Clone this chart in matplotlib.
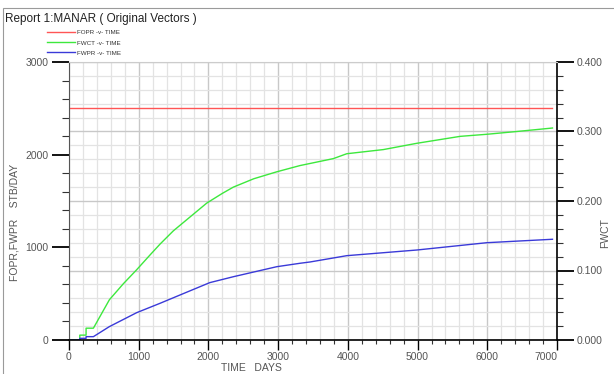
import numpy as np
import matplotlib
matplotlib.use("Agg")
import matplotlib.pyplot as plt
from matplotlib.ticker import MultipleLocator, FormatStrFormatter
from matplotlib.patches import Rectangle

plt.rcParams['font.family'] = ['Liberation Sans', 'DejaVu Sans']

# report time steps (days) and vectors
fopr_t = [0, 6935]
fopr = [2500, 2500]

fwct_t = [0, 155, 155, 245, 245, 350, 580, 780, 970, 1150, 1306, 1496, 1700,
          1976, 2200, 2358, 2650, 2980, 3314, 3458, 3792, 3984, 4510, 4988,
          5610, 5993, 6423, 6935]
fwct = [0.0, 0.0, 0.007, 0.007, 0.017, 0.017, 0.058, 0.081, 0.101, 0.121,
        0.138, 0.157, 0.174, 0.197, 0.211, 0.220, 0.232, 0.242, 0.251, 0.254,
        0.261, 0.268, 0.274, 0.283, 0.293, 0.296, 0.300, 0.305]

fwpr_t = [0, 155, 155, 245, 245, 350, 578, 971, 1306, 1593, 2019, 2358,
          2980, 3314, 3458, 3984, 4988, 5993, 6935]
fwpr = [0, 0, 18, 18, 36, 36, 144, 295, 396, 486, 619, 683, 791, 828, 842,
        910, 971, 1050, 1087]

W, H = 614, 374
fig = plt.figure(figsize=(W / 100, H / 100), dpi=100, facecolor='white')
ax2 = fig.add_axes([69 / W, 1 - 340 / H, (557 - 69) / W, (340 - 62) / H])
ax = fig.add_axes(ax2.get_position(), sharex=ax2)
ax.set_zorder(ax2.get_zorder() + 1)
ax.patch.set_visible(False)

lab_col = '#555555'

# right axis (FWCT) carries the grid
ax2.plot(fwct_t, fwct, color='#3de83d', lw=1.0, label='FWCT -v- TIME')
ax2.set_ylim(0, 0.4)
ax2.yaxis.tick_right()
ax2.yaxis.set_major_locator(MultipleLocator(0.1))
ax2.yaxis.set_minor_locator(MultipleLocator(0.02))
ax2.yaxis.set_major_formatter(FormatStrFormatter('%.3f'))
ax2.set_xlim(0, 7000)
ax2.xaxis.set_major_locator(MultipleLocator(1000))
ax2.xaxis.set_minor_locator(MultipleLocator(200))
ax2.grid(True, which='minor', color='#e3e3e3', lw=0.9)
ax2.grid(True, which='major', color='#c8c8c8', lw=1.0)
ax2.tick_params(axis='x', which='both', bottom=False, labelbottom=False)
ax2.tick_params(axis='y', which='major', length=12, width=1.3, color='black',
                labelsize=7.5, labelcolor=lab_col, pad=2)
ax2.tick_params(axis='y', which='minor', length=4, width=0.8, color='#333333')
for s in ['left', 'bottom', 'top']:
    ax2.spines[s].set_visible(False)
ax2.spines['right'].set_color('black')
ax2.spines['right'].set_linewidth(1.2)

# left axis (rates)
ax.plot(fopr_t, fopr, color='#ff5555', lw=1.0, label='FOPR -v- TIME')
ax.plot(fwpr_t, fwpr, color='#3a3ad8', lw=1.0, label='FWPR -v- TIME')
ax.set_ylim(0, 3000)
ax.yaxis.set_major_locator(MultipleLocator(1000))
ax.yaxis.set_minor_locator(MultipleLocator(200))
ax.tick_params(axis='y', which='major', length=12, width=1.3, color='black',
               labelsize=7.5, labelcolor=lab_col, pad=3)
ax.tick_params(axis='y', which='minor', length=5, width=0.8, color='#333333')
ax.tick_params(axis='x', which='major', length=7, width=1.0, color='black',
               labelsize=7.5, labelcolor=lab_col, pad=2)
ax.tick_params(axis='x', which='minor', length=3, width=0.8, color='#333333')
ax.spines['right'].set_visible(False)
ax.spines['top'].set_color('#cccccc')
ax.spines['left'].set_color('#555555')
ax.spines['bottom'].set_color('black')
ax.spines['bottom'].set_linewidth(1.2)
for lbl in ax.get_xticklabels():
    if lbl.get_text() == '7000':
        lbl.set_horizontalalignment('right')

# legend in FOPR, FWCT, FWPR order
h1, l1 = ax.get_legend_handles_labels()
h2, l2 = ax2.get_legend_handles_labels()
fig.legend([h1[0], h2[0], h1[1]], [l1[0], l2[0], l1[1]],
           loc='upper left', bbox_to_anchor=(44 / W, 1 - 27 / H),
           frameon=False, fontsize=4.5, handlelength=4.5, handletextpad=0.3,
           labelspacing=0.75, borderpad=0, labelcolor='#333333')

fig.text(5 / W, 1 - 19 / H, 'Report 1:MANAR ( Original Vectors )',
         fontsize=8.5, va='center', ha='left', color='#222222')
fig.text(15 / W, 1 - 222 / H, 'FOPR,FWPR    STB/DAY', rotation=90,
         fontsize=7.5, va='center', ha='center', color=lab_col)
fig.text(605 / W, 1 - 233 / H, 'FWCT', rotation=90,
         fontsize=7.5, va='center', ha='center', color=lab_col)
fig.text(251 / W, 1 - 368 / H, 'TIME   DAYS',
         fontsize=7.5, va='center', ha='center', color=lab_col)

fig.add_artist(Rectangle((3 / W, -0.01), 1.0, 1 - 8 / H + 0.01,
                         transform=fig.transFigure, fill=False,
                         ec='#9a9a9a', lw=0.8))

fig.savefig('out.png', dpi=100, facecolor='white')
